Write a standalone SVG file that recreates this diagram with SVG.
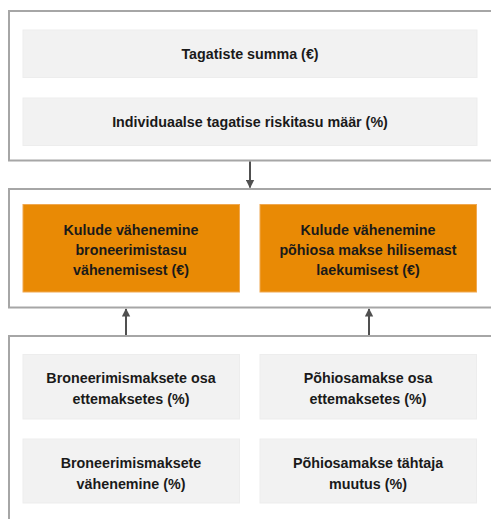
<svg xmlns="http://www.w3.org/2000/svg" width="491" height="519" viewBox="0 0 491 519">
<style>
.cont{fill:#ffffff;stroke:#a6a6a6;stroke-width:2}
.gray{fill:#f2f2f2;stroke:#ededed;stroke-width:1}
.orange{fill:#e98a05;stroke:#f0a850;stroke-width:1}
text{font-family:"Liberation Sans",Arial,sans-serif;font-weight:bold;font-size:14.3px;fill:#1a1a1a;text-anchor:middle}
.conn{stroke:#505050;stroke-width:2;fill:none}
</style>
<defs>
<marker id="ah" viewBox="0 0 10 10" refX="9" refY="5" markerWidth="4.2" markerHeight="4.5" orient="auto" markerUnits="strokeWidth">
<path d="M0,0 L10,5 L0,10 z" fill="#505050"/>
</marker>
</defs>
<g id="top-container">
<rect class="cont" x="9" y="11" width="500" height="149.5"/>
</g>
<g id="middle-container">
<rect class="cont" x="9" y="189" width="500" height="118.5"/>
</g>
<g id="bottom-container">
<rect class="cont" x="9" y="336" width="500" height="200"/>
</g>
<g id="tagatiste-summa">
<rect class="gray" x="23" y="30" width="454" height="47.5"/>
<text x="250" y="59">Tagatiste summa (€)</text>
</g>
<g id="riskitasu-maar">
<rect class="gray" x="23" y="98" width="454" height="47.5"/>
<text x="250" y="127">Individuaalse tagatise riskitasu määr (%)</text>
</g>
<g id="kulude-broneerimistasu">
<rect class="orange" x="23" y="204.5" width="216.5" height="87.5"/>
<text x="131" y="234.5">Kulude vähenemine</text>
<text x="131" y="254.5">broneerimistasu</text>
<text x="131" y="274.5">vähenemisest (€)</text>
</g>
<g id="kulude-pohiosa">
<rect class="orange" x="260" y="204.5" width="216.5" height="87.5"/>
<text x="368" y="234.5">Kulude vähenemine</text>
<text x="368" y="254.5">põhiosa makse hilisemast</text>
<text x="368" y="274.5">laekumisest (€)</text>
</g>
<g id="broneerimismaksete-osa">
<rect class="gray" x="23" y="354.5" width="216.5" height="64.5"/>
<text x="131" y="383">Broneerimismaksete osa</text>
<text x="131" y="404">ettemaksetes (%)</text>
</g>
<g id="pohiosamakse-osa">
<rect class="gray" x="260" y="354.5" width="216.5" height="64.5"/>
<text x="368" y="383">Põhiosamakse osa</text>
<text x="368" y="404">ettemaksetes (%)</text>
</g>
<g id="broneerimismaksete-vahenemine">
<rect class="gray" x="23" y="439" width="216.5" height="64"/>
<text x="131" y="467.5">Broneerimismaksete</text>
<text x="131" y="488.5">vähenemine (%)</text>
</g>
<g id="pohiosamakse-tahtaja">
<rect class="gray" x="260" y="439" width="216.5" height="64"/>
<text x="368" y="467.5">Põhiosamakse tähtaja</text>
<text x="368" y="488.5">muutus (%)</text>
</g>
<g id="connectors">
<line class="conn" x1="250" y1="161.5" x2="250" y2="187.5" marker-end="url(#ah)"/>
<line class="conn" x1="126" y1="335" x2="126" y2="309" marker-end="url(#ah)"/>
<line class="conn" x1="369" y1="335" x2="369" y2="309" marker-end="url(#ah)"/>
</g>
</svg>
